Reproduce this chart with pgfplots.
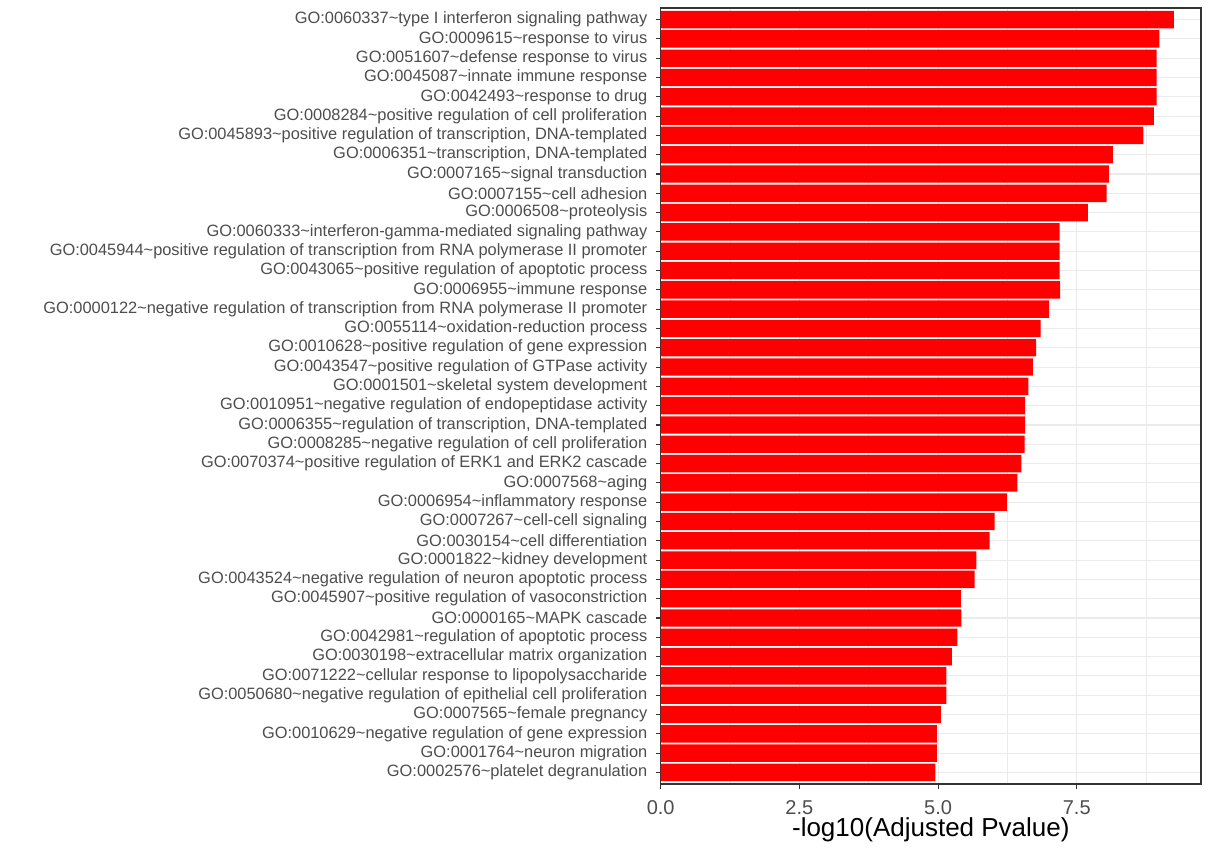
\documentclass[border=0pt]{standalone}
\usepackage{fontspec}
\setmainfont{Liberation Sans}
\usepackage{pgfplots}
\pgfplotsset{compat=1.18}

\definecolor{gray20}{HTML}{333333}
\definecolor{gray30}{HTML}{4D4D4D}
\definecolor{gray92}{HTML}{EBEBEB}
\newcommand{\tl}{\textasciitilde}

\begin{document}
\begin{tikzpicture}
\begin{axis}[
    name=ax,
    at={(0,0)}, anchor=south west,
    scale only axis,
    width=270.15pt, height=388pt,
    xbar, bar width=0.9,
    xmin=0, xmax=9.74,
    ymin=0.4, ymax=40.6,
    y dir=reverse,
    xtick={0,2.5,5,7.5},
    xticklabels={0.0,2.5,5.0,7.5},
    minor xtick={1.25,3.75,6.25,8.75},
    ytick={1,...,40},
    yticklabels={
        GO:0060337\tl type I interferon signaling pathway,
        GO:0009615\tl response to virus,
        GO:0051607\tl defense response to virus,
        GO:0045087\tl innate immune response,
        GO:0042493\tl response to drug,
        GO:0008284\tl positive regulation of cell proliferation,
        {GO:0045893\tl positive regulation of transcription, DNA-templated},
        {GO:0006351\tl transcription, DNA-templated},
        GO:0007165\tl signal transduction,
        GO:0007155\tl cell adhesion,
        GO:0006508\tl proteolysis,
        GO:0060333\tl interferon-gamma-mediated signaling pathway,
        GO:0045944\tl positive regulation of transcription from RNA polymerase II promoter,
        GO:0043065\tl positive regulation of apoptotic process,
        GO:0006955\tl immune response,
        GO:0000122\tl negative regulation of transcription from RNA polymerase II promoter,
        GO:0055114\tl oxidation-reduction process,
        GO:0010628\tl positive regulation of gene expression,
        GO:0043547\tl positive regulation of GTPase activity,
        GO:0001501\tl skeletal system development,
        GO:0010951\tl negative regulation of endopeptidase activity,
        {GO:0006355\tl regulation of transcription, DNA-templated},
        GO:0008285\tl negative regulation of cell proliferation,
        GO:0070374\tl positive regulation of ERK1 and ERK2 cascade,
        GO:0007568\tl aging,
        GO:0006954\tl inflammatory response,
        GO:0007267\tl cell-cell signaling,
        GO:0030154\tl cell differentiation,
        GO:0001822\tl kidney development,
        GO:0043524\tl negative regulation of neuron apoptotic process,
        GO:0045907\tl positive regulation of vasoconstriction,
        GO:0000165\tl MAPK cascade,
        GO:0042981\tl regulation of apoptotic process,
        GO:0030198\tl extracellular matrix organization,
        GO:0071222\tl cellular response to lipopolysaccharide,
        GO:0050680\tl negative regulation of epithelial cell proliferation,
        GO:0007565\tl female pregnancy,
        GO:0010629\tl negative regulation of gene expression,
        GO:0001764\tl neuron migration,
        GO:0002576\tl platelet degranulation
    },
    xmajorgrids, xminorgrids, ymajorgrids,
    major grid style={draw=gray92, line width=0.55pt},
    minor grid style={draw=gray92, line width=0.3pt},
    axis line style={draw=gray20, line width=0.55pt},
    tick align=outside, tick pos=left,
    major tick length=2.5pt,
    minor tick length=0pt,
    tick style={draw=gray20, line width=0.55pt},
    /pgf/number format/assume math mode=true,
    yticklabel style={font=\fontsize{8.2}{9}\selectfont, text=gray30, inner sep=0pt, xshift=-4pt},
    xticklabel style={font=\fontsize{10}{11}\selectfont, text=gray30, inner sep=0pt, yshift=-5.5pt},
    xlabel={-log10(Adjusted Pvalue)},
    ylabel={GO Terms},
    x label style={at={(axis description cs:0.5,0)}, anchor=center, yshift=-23pt, font=\fontsize{13}{15}\selectfont},
    y label style={at={(axis description cs:0,0.5)}, anchor=center, xshift=-319.85pt, font=\fontsize{12.8}{15}\selectfont},
]
\addplot[fill=red, draw=none] coordinates {
    (9.25,1) (8.99,2) (8.94,3) (8.94,4) (8.94,5)
    (8.89,6) (8.70,7) (8.15,8) (8.08,9) (8.04,10)
    (7.70,11) (7.19,12) (7.19,13) (7.19,14) (7.20,15)
    (7.00,16) (6.85,17) (6.77,18) (6.71,19) (6.63,20)
    (6.57,21) (6.57,22) (6.56,23) (6.50,24) (6.43,25)
    (6.24,26) (6.02,27) (5.93,28) (5.69,29) (5.66,30)
    (5.41,31) (5.42,32) (5.35,33) (5.25,34) (5.15,35)
    (5.15,36) (5.05,37) (4.98,38) (4.98,39) (4.95,40)
};
\draw[gray20, line width=0.55pt] (rel axis cs:0,0) rectangle (rel axis cs:1,1);
\end{axis}
\pgfresetboundingbox
\path[use as bounding box] (-330.35pt,-33.5pt) rectangle (273.65pt,392pt);
\end{tikzpicture}
\end{document}
